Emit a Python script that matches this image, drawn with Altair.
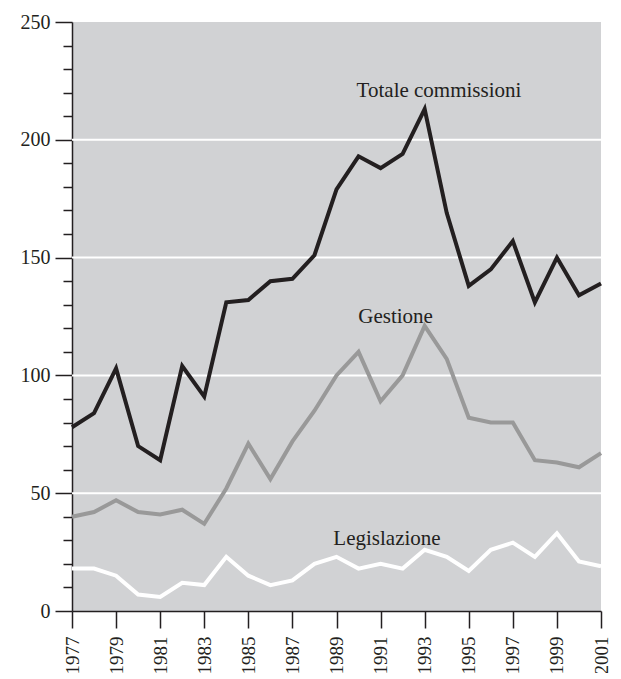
import altair as alt
import pandas as pd

years = list(range(1977, 2002))
totale = [78, 84, 103, 70, 64, 104, 91, 131, 132, 140, 141, 151, 179, 193, 188, 194, 213, 169, 138, 145, 157, 131, 150, 134, 139]
gestione = [40, 42, 47, 42, 41, 43, 37, 52, 71, 56, 72, 85, 100, 110, 89, 100, 121, 107, 82, 80, 80, 64, 63, 61, 67]
legislazione = [18, 18, 15, 7, 6, 12, 11, 23, 15, 11, 13, 20, 23, 18, 20, 18, 26, 23, 17, 26, 29, 23, 33, 21, 19]

series_names = ["Totale commissioni", "Gestione", "Legislazione"]
series_colors = ["#231f20", "#999999", "#ffffff"]
label_x = [1993.65, 1991.68, 1991.29]
label_y = [218.2, 122.2, 28.0]
x_tick_values = list(range(1977, 2002, 2))
y_tick_values = list(range(0, 251, 10))
grid_values = [50, 100, 150, 200]

rows = []
for name, vals in zip(series_names, [totale, gestione, legislazione]):
    for y, v in zip(years, vals):
        rows.append({"anno": y, "valore": v, "serie": name})
df = pd.DataFrame(rows)
labels = pd.DataFrame({"serie": series_names, "anno": label_x, "valore": label_y})
gdf = pd.DataFrame({"valore": grid_values})

FONT = "Liberation Serif"

xscale = alt.Scale(domain=[1977, 2001], nice=False, zero=False)
yscale = alt.Scale(domain=[0, 250], nice=False)

xax = alt.Axis(values=x_tick_values, format="d", labelAngle=-90,
               labelAlign="right", labelBaseline="middle", title=None,
               grid=False, tickSize=17, labelPadding=8, labelFontSize=19,
               labelOverlap=False, labelBound=False,
               labelFont=FONT, labelColor="#231f20", domainColor="#231f20",
               tickColor="#231f20", domainWidth=1.5, tickWidth=1.5)
yax = alt.Axis(values=y_tick_values,
               labelExpr="datum.value % 50 == 0 ? datum.label : ''",
               tickSize={"condition": {"test": "datum.value % 50 == 0", "value": 17}, "value": 9},
               labelOverlap=False, labelBound=False,
               title=None, grid=False, labelPadding=5,
               labelFontSize=20, labelFont=FONT, labelColor="#231f20",
               domainColor="#231f20", tickColor="#231f20",
               domainWidth=1.5, tickWidth=1.5)

X = alt.X("anno:Q", scale=xscale, axis=xax)
Y = alt.Y("valore:Q", scale=yscale, axis=yax)

grid = alt.Chart(gdf).mark_rule(color="#ffffff", strokeWidth=2).encode(y=Y)

lines = alt.Chart(df).mark_line(strokeWidth=4, strokeJoin="miter").encode(
    x=X, y=Y,
    color=alt.Color("serie:N", scale=alt.Scale(domain=series_names, range=series_colors), legend=None),
    detail="serie:N",
)

text = alt.Chart(labels).mark_text(font=FONT, fontSize=21, color="#231f20", align="center", baseline="alphabetic").encode(
    x=X, y=Y, text="serie:N",
)

chart = alt.layer(grid, lines, text).properties(
    width=529, height=589,
    padding={"left": 64, "top": 14, "right": 12, "bottom": 62},
    autosize=alt.AutoSizeParams(type="none"),
    background="#ffffff",
).configure_view(fill="#d1d2d4", stroke=None)

chart.save("out.html", embed_options={"renderer": "svg", "actions": False})
